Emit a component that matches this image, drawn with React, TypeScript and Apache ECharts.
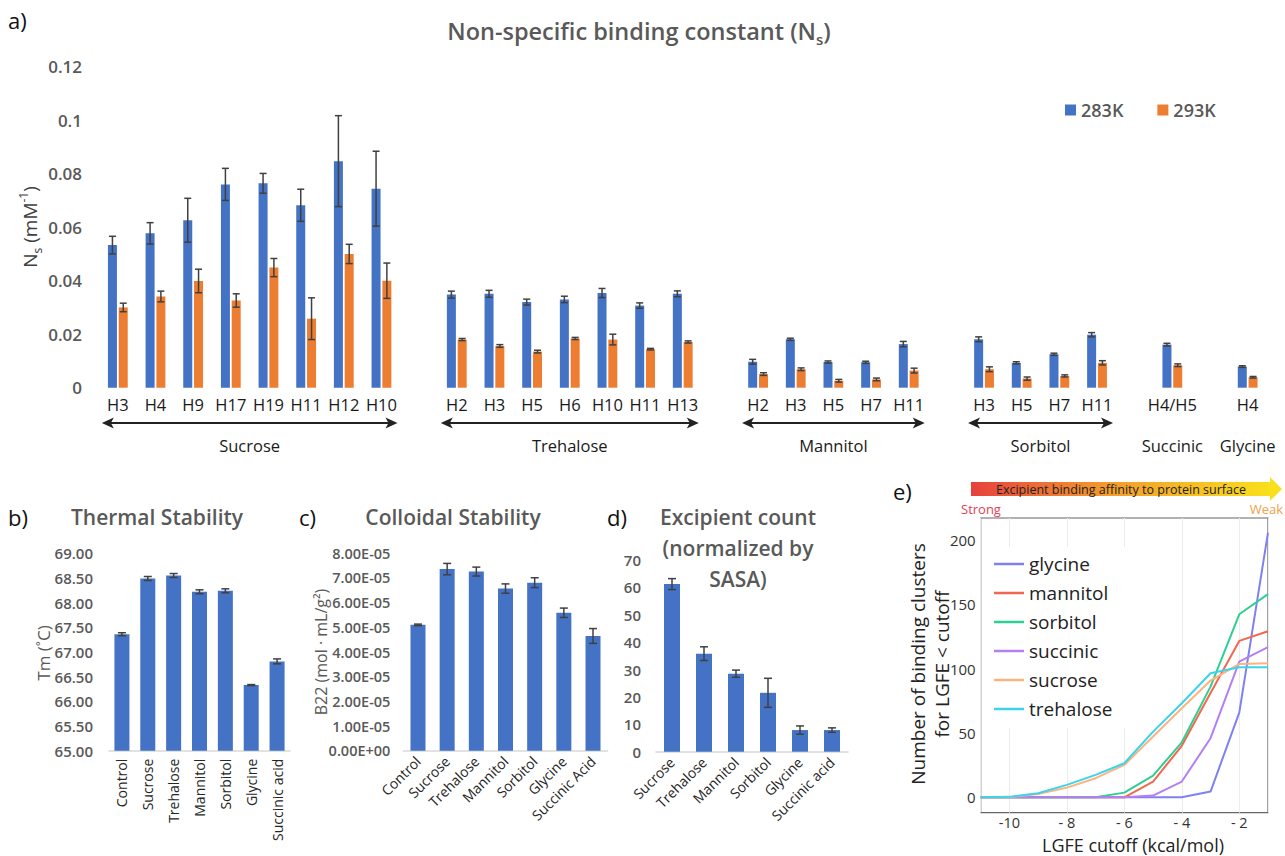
import React, { useEffect, useRef } from "react";
import * as echarts from "echarts";

const FONT = '"Open Sans", "Noto Sans", sans-serif';

// ---------- Panel a : non-specific binding constant ----------
const sucroseCats = ["H3", "H4", "H9", "H17", "H19", "H11", "H12", "H10"];
const sucrose283 = [0.0533, 0.0577, 0.0626, 0.076, 0.0764, 0.0682, 0.0847, 0.0744];
const sucrose283Err = [0.0033, 0.004, 0.0082, 0.006, 0.0037, 0.006, 0.017, 0.014];
const sucrose293 = [0.03, 0.0341, 0.0399, 0.0326, 0.0449, 0.0258, 0.05, 0.04];
const sucrose293Err = [0.0016, 0.002, 0.0044, 0.0025, 0.0034, 0.0078, 0.0036, 0.0066];

const trehaloseCats = ["H2", "H3", "H5", "H6", "H10", "H11", "H13"];
const trehalose283 = [0.0348, 0.0351, 0.032, 0.033, 0.0354, 0.0307, 0.0351];
const trehalose283Err = [0.0013, 0.0013, 0.0011, 0.0012, 0.0017, 0.001, 0.0011];
const trehalose293 = [0.018, 0.0156, 0.0135, 0.0184, 0.018, 0.0144, 0.0171];
const trehalose293Err = [0.0004, 0.0005, 0.0005, 0.0004, 0.002, 0.0003, 0.0004];

const mannitolCats = ["H2", "H3", "H5", "H7", "H11"];
const mannitol283 = [0.0097, 0.0181, 0.0096, 0.0095, 0.0163];
const mannitol283Err = [0.0009, 0.0004, 0.0004, 0.0004, 0.001];
const mannitol293 = [0.0051, 0.0069, 0.0026, 0.0031, 0.0064];
const mannitol293Err = [0.0005, 0.0005, 0.0005, 0.0005, 0.0009];

const sorbitolCats = ["H3", "H5", "H7", "H11"];
const sorbitol283 = [0.0181, 0.0093, 0.0125, 0.0198];
const sorbitol283Err = [0.0009, 0.0004, 0.0004, 0.0008];
const sorbitol293 = [0.0069, 0.0034, 0.0044, 0.0093];
const sorbitol293Err = [0.0009, 0.0006, 0.0004, 0.0008];

const succinicCats = ["H4/H5"];
const succinic283 = [0.0161];
const succinic283Err = [0.0005];
const succinic293 = [0.0084];
const succinic293Err = [0.0005];

const glycineCats = ["H4"];
const glycine283 = [0.0079];
const glycine283Err = [0.0003];
const glycine293 = [0.0039];
const glycine293Err = [0.0003];

const groupNames = ["Sucrose", "Trehalose", "Mannitol", "Sorbitol", "Succinic", "Glycine"];
const groupArrows = [true, true, true, true, false, false];
const groupCats = [sucroseCats, trehaloseCats, mannitolCats, sorbitolCats, succinicCats, glycineCats];
const group283 = [sucrose283, trehalose283, mannitol283, sorbitol283, succinic283, glycine283];
const group283Err = [sucrose283Err, trehalose283Err, mannitol283Err, sorbitol283Err, succinic283Err, glycine283Err];
const group293 = [sucrose293, trehalose293, mannitol293, sorbitol293, succinic293, glycine293];
const group293Err = [sucrose293Err, trehalose293Err, mannitol293Err, sorbitol293Err, succinic293Err, glycine293Err];

// ---------- Panel b : thermal stability ----------
const thermalCats = ["Control", "Sucrose", "Trehalose", "Mannitol", "Sorbitol", "Glycine", "Succinic acid"];
const thermalTm = [67.36, 68.49, 68.55, 68.22, 68.24, 66.33, 66.81];
const thermalErr = [0.03, 0.04, 0.04, 0.04, 0.04, 0.01, 0.05];

// ---------- Panel c : colloidal stability ----------
const colloidCats = ["Control", "Sucrose", "Trehalose", "Mannitol", "Sorbitol", "Glycine", "Succinic Acid"];
const colloidB22 = [5.1e-5, 7.36e-5, 7.26e-5, 6.57e-5, 6.81e-5, 5.59e-5, 4.65e-5];
const colloidErr = [0.03e-5, 0.23e-5, 0.18e-5, 0.19e-5, 0.2e-5, 0.19e-5, 0.3e-5];

// ---------- Panel d : excipient count ----------
const countCats = ["Sucrose", "Trehalose", "Mannitol", "Sorbitol", "Glycine", "Succinic acid"];
const countVals = [61.2, 35.8, 28.5, 21.5, 7.9, 7.9];
const countErr = [2, 2.5, 1.3, 5.3, 1.5, 0.8];

// ---------- Panel e : binding clusters vs LGFE cutoff ----------
const lgfeCutoff = [-11, -10, -9, -8, -7, -6, -5, -4, -3, -2, -1];
const glycineClusters = [0, 0, 0, 0, 0, 0, 0, 0, 4.4, 65.8, 205.7];
const mannitolClusters = [0, 0, 0, 0, 0, 0, 12.2, 40, 81, 121.5, 129];
const sorbitolClusters = [0, 0, 0, 0, 0, 3.6, 16.8, 42.7, 86, 142.2, 157.8];
const succinicClusters = [0, 0, 0, 0, 0, 0, 1.3, 12.2, 45.9, 105.4, 116.6];
const sucroseClusters = [0, 0, 2.6, 7.5, 14.8, 25.1, 47.2, 69.2, 90.7, 103.6, 104.1];
const trehaloseClusters = [0, 0.3, 3.1, 9.6, 17.4, 26.4, 51, 73, 96.4, 101, 101];
const lineNames = ["glycine", "mannitol", "sorbitol", "succinic", "sucrose", "trehalose"];
const lineValues = [glycineClusters, mannitolClusters, sorbitolClusters, succinicClusters, sucroseClusters, trehaloseClusters];
const lineColors = ["#7f80f2", "#f2674d", "#2ecf93", "#b47ff2", "#f9b47f", "#3cd3ec"];

// ---------- helpers ----------
function errRender(offset: number, cap: number) {
  return (params: any, api: any) => {
    const x = api.value(0);
    const v = api.value(1);
    const e = api.value(2);
    const top = api.coord([x, v + e]);
    const bot = api.coord([x, v - e]);
    const cx = top[0] + offset;
    const style = { stroke: "#404040", lineWidth: 1.5 };
    return {
      type: "group",
      children: [
        { type: "line", shape: { x1: cx, y1: top[1], x2: cx, y2: bot[1] }, style },
        { type: "line", shape: { x1: cx - cap, y1: top[1], x2: cx + cap, y2: top[1] }, style },
        { type: "line", shape: { x1: cx - cap, y1: bot[1], x2: cx + cap, y2: bot[1] }, style },
      ],
    };
  };
}

function sci(v: number) {
  if (Math.abs(v) < 1e-12) return "0.00E+00";
  const e = Math.floor(Math.log10(Math.abs(v)) + 1e-6);
  const m = v / Math.pow(10, e);
  return m.toFixed(2) + "E" + (e < 0 ? "-" : "+") + String(Math.abs(e)).padStart(2, "0");
}

export default function App() {
  const ref = useRef<HTMLDivElement>(null);

  useEffect(() => {
    if (!ref.current) return;
    const chart = echarts.init(ref.current, null, { renderer: "svg" });

    // build panel a category table
    const keys: string[] = [];
    const labels: string[] = [];
    const v283: any[] = [];
    const v293: any[] = [];
    const e283: any[] = [];
    const e293: any[] = [];
    const ranges: { first: number; last: number }[] = [];
    groupCats.forEach((cats, gi) => {
      if (gi > 0) {
        keys.push("gap" + gi);
        labels.push("");
        v283.push("-");
        v293.push("-");
      }
      const first = keys.length;
      cats.forEach((c, ci) => {
        const idx = keys.length;
        keys.push(gi + ":" + c);
        labels.push(c);
        v283.push(group283[gi][ci]);
        v293.push(group293[gi][ci]);
        e283.push([idx, group283[gi][ci], group283Err[gi][ci]]);
        e293.push([idx, group293[gi][ci], group293Err[gi][ci]]);
      });
      ranges.push({ first, last: keys.length - 1 });
    });

    const catLabel = (fs: number, rotate: number, margin: number) => ({
      interval: 0,
      rotate,
      margin,
      fontSize: fs,
      color: "#262626",
      fontFamily: FONT,
    });
    const valLabel = (fs: number, margin: number, formatter?: any) => ({
      fontSize: fs,
      color: "#595959",
      fontWeight: 600,
      fontFamily: FONT,
      margin,
      formatter,
    });

    const option: any = {
      animation: false,
      backgroundColor: "#ffffff",
      grid: [
        { left: 99, width: 1167.5, top: 66.7, height: 321 },
        { left: 109, width: 181, top: 553.3, height: 197.4 },
        { left: 403.4, width: 204.2, top: 553.3, height: 197.4 },
        { left: 656, width: 192, top: 560, height: 191.7 },
        { left: 980.7, width: 287.3, top: 518, height: 294.7, show: true, borderColor: "#666666", borderWidth: 1.2 },
      ],
      xAxis: [
        {
          type: "category",
          gridIndex: 0,
          data: keys,
          axisLine: { show: false },
          axisTick: { show: false },
          axisLabel: {
            ...catLabel(16.5, 0, 8),
            color: "#1a1a1a",
            formatter: (_v: string, i: number) => labels[i],
          },
        },
        {
          type: "category",
          gridIndex: 1,
          data: thermalCats,
          axisLine: { lineStyle: { color: "#d9d9d9", width: 1.5 } },
          axisTick: { show: false },
          axisLabel: catLabel(14, 90, 8),
        },
        {
          type: "category",
          gridIndex: 2,
          data: colloidCats,
          axisLine: { lineStyle: { color: "#d9d9d9", width: 1.5 } },
          axisTick: { show: false },
          axisLabel: catLabel(14, 45, 8),
        },
        {
          type: "category",
          gridIndex: 3,
          data: countCats,
          axisLine: { lineStyle: { color: "#d9d9d9", width: 1.5 } },
          axisTick: { show: false },
          axisLabel: catLabel(14, 45, 8),
        },
        {
          type: "value",
          gridIndex: 4,
          min: -11,
          max: -1,
          axisLine: { show: false },
          axisTick: { show: false },
          splitLine: { show: true, lineStyle: { color: "#ececec" } },
          axisLabel: {
            fontSize: 14.5,
            color: "#333333",
            fontFamily: FONT,
            margin: 2,
            formatter: (v: number) => (v % 2 === 0 ? (v === -10 ? "-10" : "- " + Math.abs(v)) : ""),
          },
        },
      ],
      yAxis: [
        {
          type: "value",
          gridIndex: 0,
          min: 0,
          max: 0.12,
          interval: 0.02,
          axisLine: { show: false },
          axisTick: { show: false },
          splitLine: { show: false },
          axisLabel: valLabel(17, 17),
        },
        {
          type: "value",
          gridIndex: 1,
          min: 65,
          max: 69,
          interval: 0.5,
          axisLine: { show: false },
          axisTick: { show: false },
          splitLine: { show: false },
          axisLabel: valLabel(15, 16, (v: number) => v.toFixed(2)),
        },
        {
          type: "value",
          gridIndex: 2,
          min: 0,
          max: 8e-5,
          interval: 1e-5,
          axisLine: { show: false },
          axisTick: { show: false },
          splitLine: { show: false },
          axisLabel: valLabel(14.5, 13, sci),
        },
        {
          type: "value",
          gridIndex: 3,
          min: 0,
          max: 70,
          interval: 10,
          axisLine: { show: false },
          axisTick: { show: false },
          splitLine: { show: false },
          axisLabel: valLabel(15, 15),
        },
        {
          type: "value",
          gridIndex: 4,
          min: -12,
          max: 217,
          axisLine: { show: false },
          axisTick: { show: false },
          splitLine: { show: false },
          axisLabel: {
            fontSize: 15,
            color: "#333333",
            fontFamily: FONT,
            margin: 5,
            formatter: (v: number) => (v % 50 === 0 ? String(v) : ""),
          },
        },
      ],
      legend: [
        {
          data: ["283K", "293K"],
          left: 1060,
          top: 96,
          icon: "rect",
          itemWidth: 11,
          itemHeight: 11,
          itemGap: 34,
          textStyle: { fontSize: 18, color: "#595959", fontWeight: 600, fontFamily: FONT },
        },
        {
          data: lineNames,
          orient: "vertical",
          left: 982,
          top: 547,
          z: 1,
          padding: [6, 60, 8, 12],
          backgroundColor: "#ffffff",
          icon: "rect",
          itemWidth: 30,
          itemHeight: 2.5,
          itemGap: 7,
          textStyle: { fontSize: 19, color: "#222222", fontFamily: FONT, lineHeight: 22 },
        },
      ],
      series: [
        {
          type: "bar",
          name: "283K",
          xAxisIndex: 0,
          yAxisIndex: 0,
          data: v283,
          barWidth: 9,
          barGap: "20%",
          itemStyle: { color: "#4472c4" },
        },
        {
          type: "bar",
          name: "293K",
          xAxisIndex: 0,
          yAxisIndex: 0,
          data: v293,
          barWidth: 9,
          barGap: "20%",
          itemStyle: { color: "#ed7d31" },
        },
        {
          type: "custom",
          name: "err283",
          xAxisIndex: 0,
          yAxisIndex: 0,
          data: e283,
          encode: { x: 0, y: 1 },
          renderItem: errRender(-5.4, 3.5),
          z: 5,
          silent: true,
        },
        {
          type: "custom",
          name: "err293",
          xAxisIndex: 0,
          yAxisIndex: 0,
          data: e293,
          encode: { x: 0, y: 1 },
          renderItem: errRender(5.4, 3.5),
          z: 5,
          silent: true,
        },
        {
          type: "bar",
          name: "Tm",
          xAxisIndex: 1,
          yAxisIndex: 1,
          data: thermalTm,
          barWidth: 15,
          itemStyle: { color: "#4472c4" },
        },
        {
          type: "custom",
          name: "errTm",
          xAxisIndex: 1,
          yAxisIndex: 1,
          data: thermalTm.map((v, i) => [i, v, thermalErr[i]]),
          encode: { x: 0, y: 1 },
          renderItem: errRender(0, 4),
          z: 5,
          silent: true,
        },
        {
          type: "bar",
          name: "B22",
          xAxisIndex: 2,
          yAxisIndex: 2,
          data: colloidB22,
          barWidth: 15,
          itemStyle: { color: "#4472c4" },
        },
        {
          type: "custom",
          name: "errB22",
          xAxisIndex: 2,
          yAxisIndex: 2,
          data: colloidB22.map((v, i) => [i, v, colloidErr[i]]),
          encode: { x: 0, y: 1 },
          renderItem: errRender(0, 4),
          z: 5,
          silent: true,
        },
        {
          type: "bar",
          name: "count",
          xAxisIndex: 3,
          yAxisIndex: 3,
          data: countVals,
          barWidth: 16,
          itemStyle: { color: "#4472c4" },
        },
        {
          type: "custom",
          name: "errCount",
          xAxisIndex: 3,
          yAxisIndex: 3,
          data: countVals.map((v, i) => [i, v, countErr[i]]),
          encode: { x: 0, y: 1 },
          renderItem: errRender(0, 4),
          z: 5,
          silent: true,
        },
        ...lineNames.map((n, k) => ({
          type: "line",
          name: n,
          xAxisIndex: 4,
          yAxisIndex: 4,
          data: lgfeCutoff.map((x, i) => [x, lineValues[k][i]]),
          symbol: "none",
          color: lineColors[k],
          lineStyle: { width: 2, color: lineColors[k] },
          z: 2,
        })),
      ],
    };

    chart.setOption(option);

    const txt = (x: number, y: number, text: string, fontSize: number, fill: string, extra: any = {}) => ({
      type: "text",
      x,
      y,
      silent: true,
      ...(extra.rotation != null ? { rotation: extra.rotation } : {}),
      style: {
        text,
        fontSize,
        fontFamily: FONT,
        fontWeight: extra.weight || "normal",
        fill,
        textAlign: extra.align || "center",
        textVerticalAlign: "middle",
        ...(extra.style || {}),
      },
    });

    const graphics: any[] = [
      txt(8, 20, "a)", 22, "#111111", { align: "left" }),
      {
        type: "text",
        x: 639,
        y: 31,
        silent: true,
        style: {
          text: "{m|Non-specific binding constant (N}{s|s}{m|)}",
          fontFamily: FONT,
          textAlign: "center",
          textVerticalAlign: "middle",
          rich: {
            m: { fontSize: 23.5, fontWeight: 600, fill: "#595959", fontFamily: FONT, lineHeight: 30 },
            s: { fontSize: 15, fontWeight: 600, fill: "#595959", fontFamily: FONT, lineHeight: 16, verticalAlign: "bottom" },
          },
        },
      },
      {
        type: "text",
        x: 30,
        y: 227,
        rotation: Math.PI / 2,
        silent: true,
        style: {
          text: "{m|N}{s|s}{m| (mM}{p|-1}{m|)}",
          fontFamily: FONT,
          textAlign: "center",
          textVerticalAlign: "middle",
          rich: {
            m: { fontSize: 19, fill: "#404040", fontFamily: FONT, lineHeight: 26 },
            s: { fontSize: 12, fill: "#404040", fontFamily: FONT, lineHeight: 14, verticalAlign: "bottom" },
            p: { fontSize: 12, fill: "#404040", fontFamily: FONT, lineHeight: 14, verticalAlign: "top" },
          },
        },
      },
      // panel b
      txt(8, 517, "b)", 22, "#111111", { align: "left" }),
      txt(157, 517, "Thermal Stability", 21, "#595959", { weight: 600 }),
      txt(43, 653, "Tm (˚C)", 17, "#595959", { rotation: Math.PI / 2 }),
      // panel c
      txt(299, 517, "c)", 22, "#111111", { align: "left" }),
      txt(453, 517, "Colloidal Stability", 21, "#595959", { weight: 600 }),
      txt(321, 652, "B22 (mol · mL/g²)", 16, "#595959", { rotation: Math.PI / 2 }),
      // panel d
      txt(607, 517, "d)", 22, "#111111", { align: "left" }),
      txt(738, 517, "Excipient count", 21, "#595959", { weight: 600 }),
      txt(738, 548, "(normalized by", 21, "#595959", { weight: 600 }),
      txt(738, 579, "SASA)", 21, "#595959", { weight: 600 }),
      // panel e
      txt(893, 491, "e)", 22, "#111111", { align: "left" }),
      {
        type: "rect",
        silent: true,
        shape: { x: 971, y: 482, width: 299, height: 14 },
        style: {
          fill: new echarts.graphic.LinearGradient(0, 0, 1, 0, [
            { offset: 0, color: "#e6403d" },
            { offset: 0.45, color: "#f39a2c" },
            { offset: 1, color: "#f9df1c" },
          ]),
        },
      },
      {
        type: "polygon",
        silent: true,
        shape: { points: [[1270, 477], [1282, 489], [1270, 501]] },
        style: { fill: "#f9df1c" },
      },
      txt(1121, 489, "Excipient binding affinity to protein surface", 12.5, "#222222"),
      txt(961, 509, "Strong", 13, "#e5404f", { align: "left" }),
      txt(1283, 509, "Weak", 13, "#f0a04b", { align: "right" }),
      txt(930, 664, "Number of binding clusters\nfor LGFE < cutoff", 19, "#222222", {
        rotation: Math.PI / 2,
        style: { lineHeight: 24 },
      }),
      txt(1133, 845, "LGFE cutoff (kcal/mol)", 18, "#222222"),
    ];

    // group arrows and labels of panel a, positioned through the category axis
    const arrowY = 423;
    const labelY = 445;
    ranges.forEach((r, gi) => {
      const x0 = chart.convertToPixel({ xAxisIndex: 0 }, r.first) as number;
      const x1 = chart.convertToPixel({ xAxisIndex: 0 }, r.last) as number;
      const mid = (x0 + x1) / 2;
      graphics.push(txt(mid, labelY, groupNames[gi], 16.5, "#1a1a1a"));
      if (groupArrows[gi]) {
        const L = x0 - 16;
        const R = x1 + 16;
        graphics.push({
          type: "line",
          silent: true,
          shape: { x1: L + 6, y1: arrowY, x2: R - 6, y2: arrowY },
          style: { stroke: "#222222", lineWidth: 2 },
        });
        graphics.push({
          type: "polygon",
          silent: true,
          shape: { points: [[L, arrowY], [L + 12, arrowY - 5.5], [L + 9, arrowY], [L + 12, arrowY + 5.5]] },
          style: { fill: "#222222" },
        });
        graphics.push({
          type: "polygon",
          silent: true,
          shape: { points: [[R, arrowY], [R - 12, arrowY - 5.5], [R - 9, arrowY], [R - 12, arrowY + 5.5]] },
          style: { fill: "#222222" },
        });
      }
    });

    chart.setOption({ graphic: graphics });

    return () => chart.dispose();
  }, []);

  return (
    <div
      ref={ref}
      style={{ position: "absolute", left: 0, top: 0, width: 1285, height: 856, background: "#fff" }}
    />
  );
}
